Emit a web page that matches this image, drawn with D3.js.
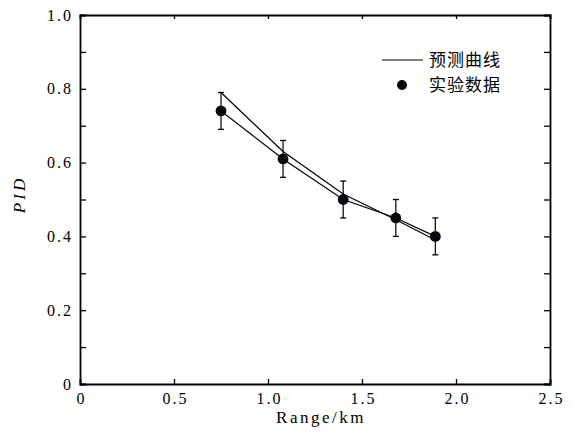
<!DOCTYPE html>
<html>
<head>
<meta charset="utf-8">
<script src="https://cdn.jsdelivr.net/npm/d3@7"></script>
<style>
  html, body { margin: 0; padding: 0; background: #fff; }
  svg { display: block; }
  .serif { font-family: "Liberation Serif", "DejaVu Serif", serif; }
</style>
</head>
<body>
<svg id="chart" width="575" height="437"></svg>
<script>
// Range in km for each measurement point
const range = [0.75, 1.08, 1.40, 1.68, 1.89];
// Measured PID with its error bar half-width
const measured = [0.74, 0.61, 0.50, 0.45, 0.40];
const errors = [0.05, 0.05, 0.05, 0.05, 0.05];
// Predicted PID at the same ranges
const predicted = [0.79, 0.63, 0.515, 0.445, 0.39];

const xTicks = [0, 0.5, 1.0, 1.5, 2.0, 2.5];
const xTickLabels = ["0", "0.5", "1.0", "1.5", "2.0", "2.5"];
const yTicks = [0, 0.2, 0.4, 0.6, 0.8, 1.0];
const yTickLabels = ["0", "0.2", "0.4", "0.6", "0.8", "1.0"];
const yMinorTicks = [0.1, 0.3, 0.5, 0.7, 0.9];

const legendLabels = ["预测曲线", "实验数据"];

const svg = d3.select("#chart");
const margin = { left: 80, top: 15, right: 25, bottom: 53 };
const W = 575, H = 437;
const iw = W - margin.left - margin.right;
const ih = H - margin.top - margin.bottom;

const x = d3.scaleLinear().domain([0, 2.5]).range([0, iw]);
const y = d3.scaleLinear().domain([0, 1.0]).range([ih, 0]);

const g = svg.append("g").attr("transform", `translate(${margin.left},${margin.top})`);

// Axes: ticks drawn inward on all four sides
const allY = yTicks.concat(yMinorTicks);
const axBottom = g.append("g").attr("transform", `translate(0,${ih})`)
  .call(d3.axisBottom(x).tickValues(xTicks).tickSize(-5)
    .tickFormat((d, i) => xTickLabels[i]).tickPadding(9));
const axTop = g.append("g")
  .call(d3.axisTop(x).tickValues(xTicks).tickSize(-4).tickFormat(""));
const axLeft = g.append("g")
  .call(d3.axisLeft(y).tickValues(allY).tickSize(-6)
    .tickFormat(d => { const i = yTicks.findIndex(v => Math.abs(v - d) < 1e-9); return i >= 0 ? yTickLabels[i] : ""; })
    .tickPadding(7));
const axRight = g.append("g").attr("transform", `translate(${iw},0)`)
  .call(d3.axisRight(y).tickValues(allY).tickSize(-6).tickFormat(""));

[axBottom, axTop, axLeft, axRight].forEach(a => {
  a.attr("font-family", null).attr("font-size", null);
  a.select(".domain").attr("stroke", "#000").attr("stroke-width", 1.8);
  a.selectAll(".tick line").attr("stroke", "#000").attr("stroke-width", 1.3);
  a.selectAll(".tick text").attr("fill", "#000").attr("class", "serif")
    .style("font-size", "16px").style("letter-spacing", "2px");
});
// keep x labels centred despite the trailing letter spacing
axBottom.selectAll(".tick text").attr("dx", "1px");

// Axis titles
g.append("text")
  .attr("class", "serif")
  .attr("x", iw / 2 + 6).attr("y", ih + 39)
  .attr("text-anchor", "middle")
  .style("font-size", "17px")
  .style("letter-spacing", "2.5px")
  .text("Range/km");

g.append("text")
  .attr("class", "serif")
  .attr("transform", `translate(${-55},${ih / 2 - 5}) rotate(-90)`)
  .attr("text-anchor", "middle")
  .style("font-style", "italic").style("font-size", "17px")
  .style("letter-spacing", "3px")
  .text("PID");

// Lines
const idx = d3.range(range.length);

g.append("path")
  .datum(idx)
  .attr("fill", "none").attr("stroke", "#000").attr("stroke-width", 1.2)
  .attr("d", d3.line().x(i => x(range[i])).y(i => y(predicted[i])));

g.append("path")
  .datum(idx)
  .attr("fill", "none").attr("stroke", "#000").attr("stroke-width", 1.2)
  .attr("d", d3.line().x(i => x(range[i])).y(i => y(measured[i])));

// Error bars
const eb = g.append("g").selectAll("g").data(idx).join("g");
eb.append("line")
  .attr("x1", i => x(range[i])).attr("x2", i => x(range[i]))
  .attr("y1", i => y(measured[i] - errors[i])).attr("y2", i => y(measured[i] + errors[i]))
  .attr("stroke", "#000").attr("stroke-width", 1.2);
[-1, 1].forEach(s => {
  eb.append("line")
    .attr("x1", i => x(range[i]) - 3).attr("x2", i => x(range[i]) + 3)
    .attr("y1", i => y(measured[i] + s * errors[i])).attr("y2", i => y(measured[i] + s * errors[i]))
    .attr("stroke", "#000").attr("stroke-width", 1.3);
});

// Measured points
g.append("g").selectAll("circle").data(idx).join("circle")
  .attr("cx", i => x(range[i])).attr("cy", i => y(measured[i]))
  .attr("r", 5.4).attr("fill", "#05050f");

// Legend
const lg = svg.append("g");
lg.append("line").attr("x1", 382).attr("x2", 423).attr("y1", 60).attr("y2", 60)
  .attr("stroke", "#000").attr("stroke-width", 1.2);
lg.append("circle").attr("cx", 402).attr("cy", 85).attr("r", 5).attr("fill", "#05050f");
lg.selectAll("text").data(legendLabels).join("text")
  .attr("x", 429).attr("y", (d, i) => 60 + i * 25)
  .attr("dy", "0.36em")
  .style("font-family", "'Noto Sans CJK SC', sans-serif").style("font-size", "17px")
  .style("letter-spacing", "1px")
  .text(d => d);
</script>
</body>
</html>
